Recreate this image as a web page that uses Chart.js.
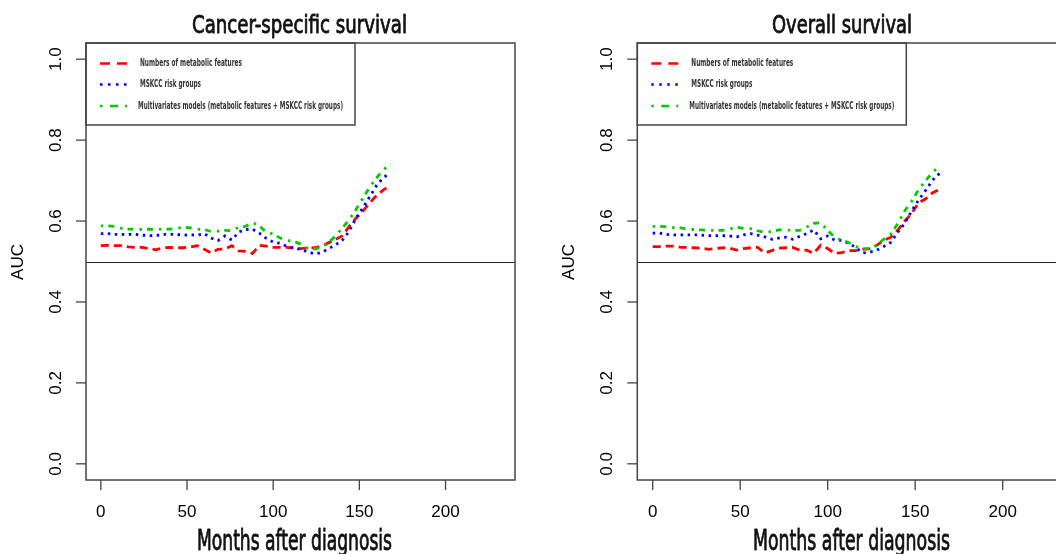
<!DOCTYPE html>
<html>
<head>
<meta charset="utf-8">
<script src="https://cdn.jsdelivr.net/npm/chart.js@4.4.1/dist/chart.umd.min.js"></script>
<style>
  html, body { margin: 0; padding: 0; background: #fff; overflow: hidden; width: 1056px; height: 554px; }
  canvas { position: absolute; top: 0; }
  #cs { left: 0; }
  #os { left: 530px; }
</style>
</head>
<body>
<canvas id="cs" width="530" height="554"></canvas>
<canvas id="os" width="560" height="554"></canvas>
<script>
/* values (AUC over time) */
const months = [0,4,8,12,16,20,24,28,32,36,40,44,48,52,56,60,64,68,72,76,80,
                84,88,92,96,100,104,108,112,116,120,124,128,132,136,140,144,148,152,156,160,164,168];
const xTicks = [0, 50, 100, 150, 200];
const yTicks = [0, 0.2, 0.4, 0.6, 0.8, 1.0];
const seriesNames = [
  'Numbers of metabolic features',
  'MSKCC risk groups',
  'Multivariates models (metabolic features + MSKCC risk groups)'
];

// Cancer-specific survival
const cssMetabolic = [0.539,0.540,0.539,0.539,0.536,0.535,0.535,0.532,0.529,0.534,0.535,0.534,0.534,0.536,0.539,0.530,0.521,0.530,0.531,0.539,0.526,
                      0.525,0.520,0.540,0.538,0.535,0.535,0.535,0.533,0.532,0.533,0.534,0.538,0.546,0.554,0.563,0.586,0.607,0.624,0.645,0.663,0.677,0.688];
const cssMskcc     = [0.569,0.569,0.567,0.567,0.567,0.567,0.565,0.564,0.564,0.567,0.567,0.567,0.565,0.566,0.565,0.569,0.558,0.552,0.563,0.553,0.573,
                      0.579,0.580,0.570,0.557,0.548,0.545,0.537,0.534,0.530,0.524,0.519,0.522,0.531,0.541,0.552,0.574,0.607,0.632,0.660,0.688,0.708,0.718];
const cssMulti     = [0.588,0.588,0.587,0.582,0.580,0.580,0.579,0.580,0.579,0.580,0.580,0.582,0.585,0.583,0.580,0.579,0.574,0.575,0.577,0.576,0.585,
                      0.587,0.596,0.588,0.572,0.568,0.558,0.552,0.550,0.543,0.533,0.531,0.535,0.546,0.563,0.582,0.603,0.628,0.656,0.684,0.707,0.727,0.740];

// Overall survival
const osMetabolic = [0.537,0.537,0.538,0.538,0.535,0.535,0.534,0.533,0.530,0.532,0.534,0.533,0.528,0.532,0.534,0.535,0.521,0.527,0.533,0.534,0.535,
                     0.528,0.528,0.520,0.540,0.532,0.520,0.522,0.527,0.527,0.530,0.532,0.540,0.552,0.560,0.577,0.600,0.619,0.645,0.655,0.670,0.678];
const osMskcc     = [0.570,0.570,0.567,0.566,0.566,0.566,0.566,0.565,0.564,0.564,0.564,0.563,0.561,0.566,0.569,0.565,0.561,0.555,0.558,0.560,0.555,
                     0.562,0.569,0.578,0.556,0.563,0.553,0.552,0.545,0.535,0.521,0.523,0.528,0.537,0.547,0.572,0.594,0.625,0.652,0.676,0.701,0.718];
const osMulti     = [0.587,0.587,0.586,0.584,0.583,0.580,0.579,0.578,0.577,0.577,0.577,0.580,0.585,0.582,0.581,0.576,0.572,0.574,0.578,0.578,0.577,
                     0.577,0.585,0.594,0.596,0.577,0.560,0.552,0.547,0.537,0.532,0.531,0.540,0.555,0.567,0.593,0.625,0.649,0.678,0.700,0.721,0.735];

const RED = '#ff0000', BLUE = '#0000ff', GREEN = '#00cd00';
const NARROW = '"Liberation Sans Narrow", "DejaVu Sans Condensed", "Roboto", sans-serif';
const ARIAL = '"Liberation Sans", Arial, sans-serif';

function pts(vals) {
  return months.slice(0, vals.length).map((m, i) => ({ x: m, y: vals[i] }));
}

// draw a string squeezed/stretched to a given width (the source font is very condensed);
// an optional thin outline gives the medium weight of the original
function fitText(ctx, txt, x, y, w, font, align, stroke) {
  ctx.font = font;
  const m = ctx.measureText(txt).width;
  ctx.save();
  ctx.translate(x, y);
  ctx.scale(w / m, 1);
  ctx.textAlign = align;
  ctx.fillText(txt, 0, 0);
  if (stroke) {
    ctx.strokeStyle = ctx.fillStyle;
    ctx.lineWidth = stroke;
    ctx.lineJoin = 'round';
    ctx.strokeText(txt, 0, 0);
  }
  ctx.restore();
}

const rFrame = {
  id: 'rframe',
  afterDatasetsDraw(chart, args, o) {
    const { ctx, chartArea: a, scales: { x, y } } = chart;
    ctx.save();
    // reference line at AUC = 0.5
    ctx.strokeStyle = '#222';
    ctx.lineWidth = 1;
    ctx.beginPath();
    ctx.moveTo(a.left, Math.round(y.getPixelForValue(0.5)) + 0.5);
    ctx.lineTo(a.right, Math.round(y.getPixelForValue(0.5)) + 0.5);
    ctx.stroke();

    // legend box
    const lx = a.left, ly = a.top, lw = 269, lh = 82;
    ctx.fillStyle = '#fff';
    ctx.fillRect(lx, ly, lw, lh);
    ctx.strokeStyle = '#444';
    ctx.lineWidth = 1.5;
    ctx.strokeRect(lx, ly, lw, lh);
    const rows = [20.5, 41.5, 63];
    const cols = [RED, BLUE, GREEN];
    const dashes = [[10, 7], [2.5, 5.5], [2.5, 7.5, 8, 7]];
    const textW = [102, 61, 205];
    const textX = [54, 54, 52];
    for (let i = 0; i < 3; i++) {
      const yy = ly + rows[i];
      ctx.strokeStyle = cols[i];
      ctx.lineWidth = 2.5;
      ctx.setLineDash(dashes[i]);
      ctx.beginPath();
      ctx.moveTo(lx + 14, yy);
      ctx.lineTo(lx + 41, yy);
      ctx.stroke();
      ctx.setLineDash([]);
      ctx.fillStyle = '#333';
      ctx.textBaseline = 'middle';
      fitText(ctx, seriesNames[i], lx + textX[i], yy, textW[i], 'bold 11px ' + NARROW, 'left');
    }

    // plot box
    ctx.strokeStyle = '#444';
    ctx.lineWidth = 1.5;
    ctx.strokeRect(a.left, a.top, a.right - a.left, a.bottom - a.top);

    // x axis ticks + labels
    ctx.lineWidth = 1.3;
    ctx.fillStyle = '#000';
    ctx.font = '17px ' + ARIAL;
    ctx.textAlign = 'center';
    ctx.textBaseline = 'middle';
    xTicks.forEach(t => {
      const px = x.getPixelForValue(t);
      ctx.beginPath();
      ctx.moveTo(px, a.bottom);
      ctx.lineTo(px, a.bottom + 10);
      ctx.stroke();
      ctx.fillText(String(t), px, 512);
    });

    // y axis ticks + rotated labels
    yTicks.forEach(t => {
      const py = y.getPixelForValue(t);
      ctx.beginPath();
      ctx.moveTo(a.left - 10, py);
      ctx.lineTo(a.left, py);
      ctx.stroke();
      ctx.save();
      ctx.translate(a.left - 29.5, py);
      ctx.rotate(-Math.PI / 2);
      ctx.fillText(t.toFixed(1), 0, 0);
      ctx.restore();
    });

    // AUC axis title
    ctx.save();
    ctx.translate(a.left - 68, 262);
    ctx.rotate(-Math.PI / 2);
    ctx.font = '17px ' + ARIAL;
    ctx.fillText('AUC', 0, 0);
    ctx.restore();

    // main title and x axis title
    ctx.fillStyle = '#111';
    ctx.textBaseline = 'alphabetic';
    fitText(ctx, o.title, o.titleX, 33, o.titleW, '25px ' + NARROW, 'center', 0.8);
    fitText(ctx, 'Months after diagnosis', o.xlabX, 550, o.xlabW, '28px ' + NARROW, 'center', 0.8);
    ctx.restore();
  }
};

function makePanel(id, vals, pad, xMin, xMax, frame) {
  const styles = [
    { c: RED,   dash: [8, 5],          order: 3 },
    { c: BLUE,  dash: [2.5, 4.5],      order: 2 },
    { c: GREEN, dash: [2.5, 5, 6, 6],  order: 1 }
  ];
  new Chart(document.getElementById(id), {
    type: 'line',
    data: {
      datasets: vals.map((v, i) => ({
        label: seriesNames[i],
        data: pts(v),
        borderColor: styles[i].c,
        borderWidth: 2.8,
        borderDash: styles[i].dash,
        borderCapStyle: 'butt',
        pointRadius: 0,
        tension: 0,
        fill: false,
        order: styles[i].order
      }))
    },
    options: {
      responsive: false,
      animation: false,
      layout: { padding: pad },
      plugins: { legend: { display: false }, tooltip: { enabled: false }, rframe: frame },
      scales: {
        x: { type: 'linear', min: xMin, max: xMax, display: false },
        y: { min: -0.04, max: 1.04, display: false }
      }
    },
    plugins: [rFrame]
  });
}

makePanel('cs', [cssMetabolic, cssMskcc, cssMulti],
  { left: 86, right: 15, top: 43, bottom: 74 }, -8.6, 240.3,
  { title: 'Cancer-specific survival', titleX: 299.5, titleW: 215, xlabX: 294.5, xlabW: 195 });

makePanel('os', [osMetabolic, osMskcc, osMulti],
  { left: 107.3, right: 17, top: 43, bottom: 74 }, -8.8, 240.2,
  { title: 'Overall survival', titleX: 312, titleW: 140, xlabX: 321.5, xlabW: 197 });
</script>
</body>
</html>
